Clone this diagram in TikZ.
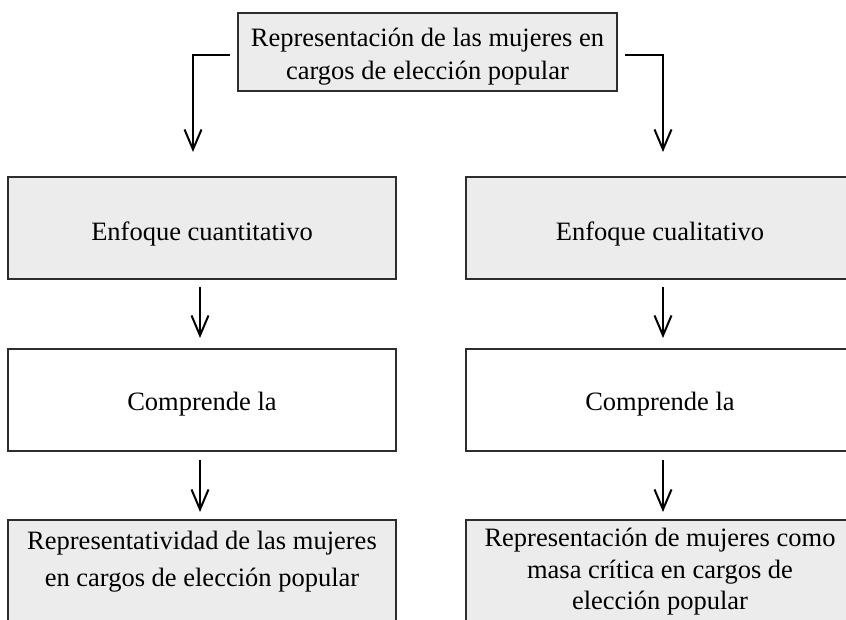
\documentclass[tikz,border=0pt]{standalone}
\usepackage{fontspec}
\setmainfont{Liberation Serif}
\usetikzlibrary{arrows.meta}
\definecolor{boxfill}{RGB}{236,236,236}
\definecolor{boxline}{RGB}{45,45,45}
\tikzset{
  box/.style={draw=boxline, line width=1.4pt, minimum width=388pt, inner sep=0pt, outer sep=0pt},
  graybox/.style={box, fill=boxfill},
  whitebox/.style={box, fill=white},
  txt/.style={inner sep=0pt, align=center, font=\fontsize{26.5}{33}\selectfont},
  conn/.style={line width=2pt, -{Straight Barb[length=20pt,width=17pt,line width=2pt]}},
}
\begin{document}
\begin{tikzpicture}[x=1pt,y=-1pt]
\useasboundingbox (0,0) rectangle (846,619);
\clip (0,0) rectangle (846,619);
% boxes
\node[graybox, minimum width=379pt, minimum height=78pt] (top) at (427.5,52) {};
\node[graybox, minimum height=102pt] (lq) at (202,228) {};
\node[graybox, minimum height=102pt] (rq) at (660,228) {};
\node[whitebox, minimum height=102pt] (lc) at (202,400) {};
\node[whitebox, minimum height=102pt] (rc) at (660,400) {};
\node[graybox, minimum height=140pt, anchor=north] (lr) at (202,520) {};
\node[graybox, minimum height=140pt, anchor=north] (rr) at (660,520) {};
% texts
\node[txt] (topt) at (427.5,57) {Representación de las mujeres en\\cargos de elección popular};
\node[txt] (lqt) at (202,234) {Enfoque cuantitativo};
\node[txt] (rqt) at (660,234) {Enfoque cualitativo};
\node[txt] (lct) at (202,404) {Comprende la};
\node[txt] (rct) at (660,404) {Comprende la};
\node[txt, font=\fontsize{26.5}{37}\selectfont] (lrt) at (202,562) {Representatividad de las mujeres\\en cargos de elección popular};
\node[txt, font=\fontsize{26.5}{31.5}\selectfont] (rrt) at (660,572) {Representación de mujeres como\\masa crítica en cargos de\\elección popular};
% connectors
\draw[conn, shorten >=25pt] ([shift={(-8,3)}]top.west) -| ([xshift=-9]lq.north);
\draw[conn, shorten >=25pt] ([shift={(8,3)}]top.east) -| ([xshift=3]rq.north);
\draw[conn, shorten <=8pt, shorten >=11pt] ([xshift=-2]lq.south) -- ([xshift=-2]lc.north);
\draw[conn, shorten <=8pt, shorten >=11pt] ([xshift=3]rq.south) -- ([xshift=3]rc.north);
\draw[conn, shorten <=9pt, shorten >=8pt] ([xshift=-2]lc.south) -- ([xshift=-2]lr.north);
\draw[conn, shorten <=9pt, shorten >=8pt] ([xshift=3]rc.south) -- ([xshift=3]rr.north);
\end{tikzpicture}
\end{document}
